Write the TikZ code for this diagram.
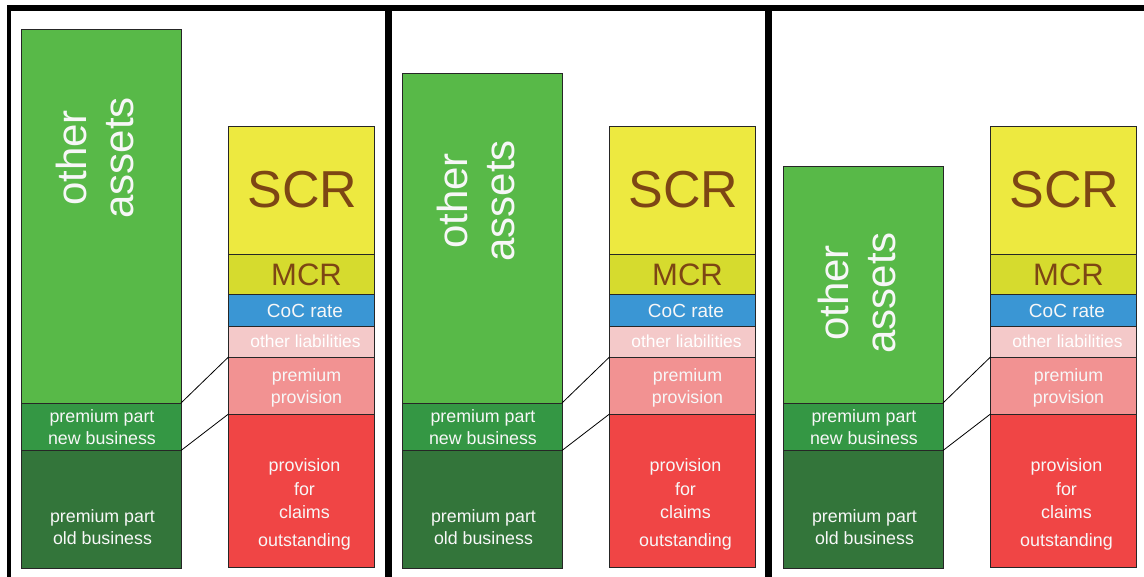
\documentclass[tikz,border=0pt]{standalone}
\usepackage{fontspec}
\setmainfont{Liberation Sans}
\definecolor{oagreen}{HTML}{58B948}
\definecolor{nbgreen}{HTML}{349744}
\definecolor{obgreen}{HTML}{33753A}
\definecolor{scryel}{HTML}{EDE940}
\definecolor{mcryel}{HTML}{D6DB2E}
\definecolor{cocblue}{HTML}{3A96D4}
\definecolor{olpink}{HTML}{F4C9C9}
\definecolor{pppink}{HTML}{F29292}
\definecolor{pcred}{HTML}{F04545}
\definecolor{reqbrown}{HTML}{7D4614}
\definecolor{lbl}{HTML}{F7F7F7}
\tikzset{
  blk/.style={draw=black!85, line width=0.8pt, inner sep=0pt, outer sep=0pt, anchor=north west},
  lcol/.style={blk, minimum width=160pt},
  rcol/.style={blk, minimum width=146pt},
  wtxt/.style={text=lbl, align=center, font=\fontsize{17.8}{22}\selectfont},
  btxt/.style={text=reqbrown, align=center},
  link/.style={draw=black, line width=0.8pt},
  frame/.style={fill=black, draw=none}
}
% one balance-sheet panel: #1 x offset, #2 top of the asset column,
% #3 vertical centre of the "other assets" label, #4 node name prefix
\newcommand\balpanel[4]{%
\begin{scope}[xshift=#1pt]
  % assets
  \node[lcol, fill=oagreen, minimum height=403pt-#2pt] (#4oa) at (21,#2) {};
  \node[lcol, fill=nbgreen, minimum height=47.5pt] (#4nb) at (21,403) {};
  \node[lcol, fill=obgreen, minimum height=117.5pt] (#4ob) at (21,450.5) {};
  \node[text=lbl, rotate=90, align=center, font=\fontsize{42}{47.5}\selectfont] at (95,#3) {other\\assets};
  \node[wtxt] at (102,427) {premium part\\new business};
  \node[wtxt] at (102.5,527) {premium part\\old business};
  % liabilities
  \node[rcol, fill=scryel, minimum height=128pt] (#4scr) at (228.5,126) {};
  \node[rcol, fill=mcryel, minimum height=40pt] (#4mcr) at (228.5,254) {};
  \node[rcol, fill=cocblue, minimum height=32pt] (#4coc) at (228.5,294) {};
  \node[rcol, fill=olpink, minimum height=31pt] (#4ol) at (228.5,326) {};
  \node[rcol, fill=pppink, minimum height=57pt] (#4pp) at (228.5,357) {};
  \node[rcol, fill=pcred, minimum height=153pt] (#4pc) at (228.5,414) {};
  \node[btxt, font=\fontsize{52}{52}\selectfont] at ([xshift=1pt]#4scr.center) {SCR};
  \node[btxt, font=\fontsize{31}{31}\selectfont] at ([xshift=5pt,yshift=-1pt]#4mcr.center) {MCR};
  \node[text=lbl, font=\fontsize{19}{19}\selectfont] at ([xshift=3.5pt,yshift=-1pt]#4coc.center) {CoC rate};
  \node[text=white, font=\fontsize{17.4}{17.4}\selectfont] at ([xshift=4pt]#4ol.center) {other liabilities};
  \node[wtxt] at ([xshift=5pt,yshift=-2pt]#4pp.center) {premium\\provision};
  \node[wtxt, font=\fontsize{17.9}{23.3}\selectfont] at (304.5,504.5) {provision\\for\\claims\\[4.4pt]outstanding};
  % premium links between the two sides
  \draw[link] (#4oa.south east) -- (#4pp.north west);
  \draw[link] (#4nb.south east) -- (#4pc.north west);
\end{scope}}

\begin{document}
\begin{tikzpicture}[x=1pt,y=-1pt]
  \useasboundingbox (0,0) rectangle (1144,577);
  \fill[white] (0,0) rectangle (1144,577);
  % frame around the three panels
  \fill[frame] (6.5,5) rectangle (1144,11);
  \fill[frame] (6.5,5) rectangle (11,577);
  \fill[frame] (384.5,5) rectangle (391.5,577);
  \fill[frame] (764.5,5) rectangle (771.5,577);
  \balpanel{0}{29}{158}{a}
  \balpanel{381}{73}{201}{b}
  \balpanel{762}{166}{293}{c}
\end{tikzpicture}
\end{document}
